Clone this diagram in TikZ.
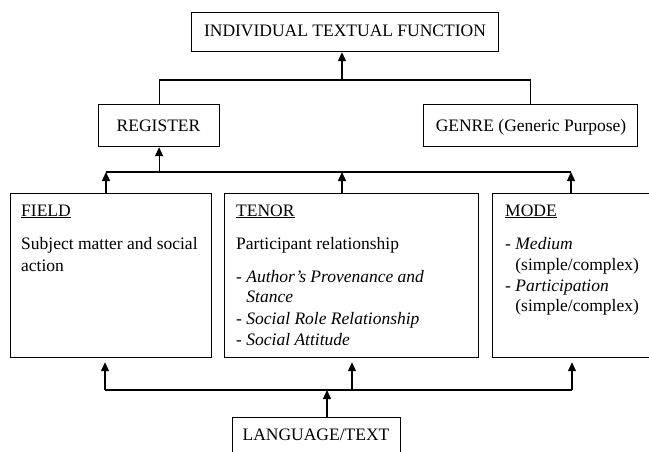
\documentclass[tikz,border=0pt]{standalone}
\usepackage{fontspec}
\setmainfont{Liberation Serif}
\usetikzlibrary{arrows.meta}
\begin{document}
\begin{tikzpicture}[x=1pt,y=-1pt,
  box/.style={draw, line width=1.2pt, inner sep=0pt, anchor=north west},
  lbl/.style={inner sep=0pt, anchor=base},
  txt/.style={inner sep=0pt, anchor=base west},
  link/.style={line width=1.2pt},
  arr/.style={line width=1.2pt, -{Triangle[length=9pt,width=8pt]}},
  font=\fontsize{17.5}{20}\selectfont]
\useasboundingbox (0,0) rectangle (649,451);
\clip (0,0) rectangle (649,451);

% boxes
\node[box, minimum width=307pt, minimum height=39pt] (itf) at (191,12) {};
\node[box, minimum width=121pt, minimum height=42pt] (reg) at (98,104) {};
\node[box, minimum width=214pt, minimum height=42pt] (genre) at (423,104) {};
\node[box, minimum width=201pt, minimum height=164pt] (field) at (10,193) {};
\node[box, minimum width=254pt, minimum height=164pt] (tenor) at (224,193) {};
\node[box, minimum width=170pt, minimum height=164pt] (mode) at (492,193) {};
\node[box, minimum width=168pt, minimum height=50pt] (lang) at (232,417) {};

% single-line labels
\node[lbl] (itft) at (345,36) {INDIVIDUAL TEXTUAL FUNCTION};
\node[lbl] (regt) at (158.5,131) {REGISTER};
\node[lbl] (genret) at (531,131) {GENRE (Generic Purpose)};
\node[lbl] (langt) at (316,440) {LANGUAGE/TEXT};

% field
\node[txt] (f1) at (21,216) {\underline{FIELD}};
\node[txt] (f2) at (21,249) {Subject matter and social};
\node[txt] (f3) at (21,271) {action};

% tenor
\node[txt] (t1) at (236,216) {\underline{TENOR}};
\node[txt] (t2) at (236,249) {Participant relationship};
\node[txt] (t3) at (236,282) {- \textit{Author’s Provenance and}};
\node[txt] (t4) at (236,302) {\hphantom{- }\textit{Stance}};
\node[txt] (t5) at (236,324) {- \textit{Social Role Relationship}};
\node[txt] (t6) at (236,345) {- \textit{Social Attitude}};

% mode
\node[txt] (m1) at (505,216) {\underline{MODE}};
\node[txt] (m2) at (505,249) {- \textit{Medium}};
\node[txt] (m3) at (505,270) {\hphantom{- }(simple/complex)};
\node[txt] (m4) at (505,291) {- \textit{Participation}};
\node[txt] (m5) at (505,311) {\hphantom{- }(simple/complex)};

% register and genre feed the individual textual function
\coordinate (j1) at (342,80);
\draw[link] (reg.north) |- (j1) -| (genre.north);
\draw[arr] (j1) -- (j1 |- itf.south);

% field, tenor and mode feed the register
\path (reg.south) ++(0,26) coordinate (j2);
\coordinate (busL) at (106,172);
\coordinate (busT) at (342,172);
\coordinate (busR) at (571,172);
\draw[link] (busL) -- (busR);
\draw[arr] (j2) -- (reg.south);
\draw[arr] (field.north -| busL) -- (busL);
\draw[arr] (tenor.north -| busT) -- (busT);
\draw[arr] (mode.north -| busR) -- (busR);

% language/text realises field, tenor and mode
\coordinate (lowL) at (105,390);
\coordinate (lowT) at (352,390);
\coordinate (lowR) at (572,390);
\coordinate (lowG) at (327,390);
\draw[link] (lowL) -- (lowR);
\draw[arr, shorten >=4pt] (lowL) -- (lowL |- field.south);
\draw[arr, shorten >=4pt] (lowT) -- (lowT |- tenor.south);
\draw[arr, shorten >=4pt] (lowR) -- (lowR |- mode.south);
\draw[arr] (lang.north -| lowG) -- (lowG);
\end{tikzpicture}
\end{document}
